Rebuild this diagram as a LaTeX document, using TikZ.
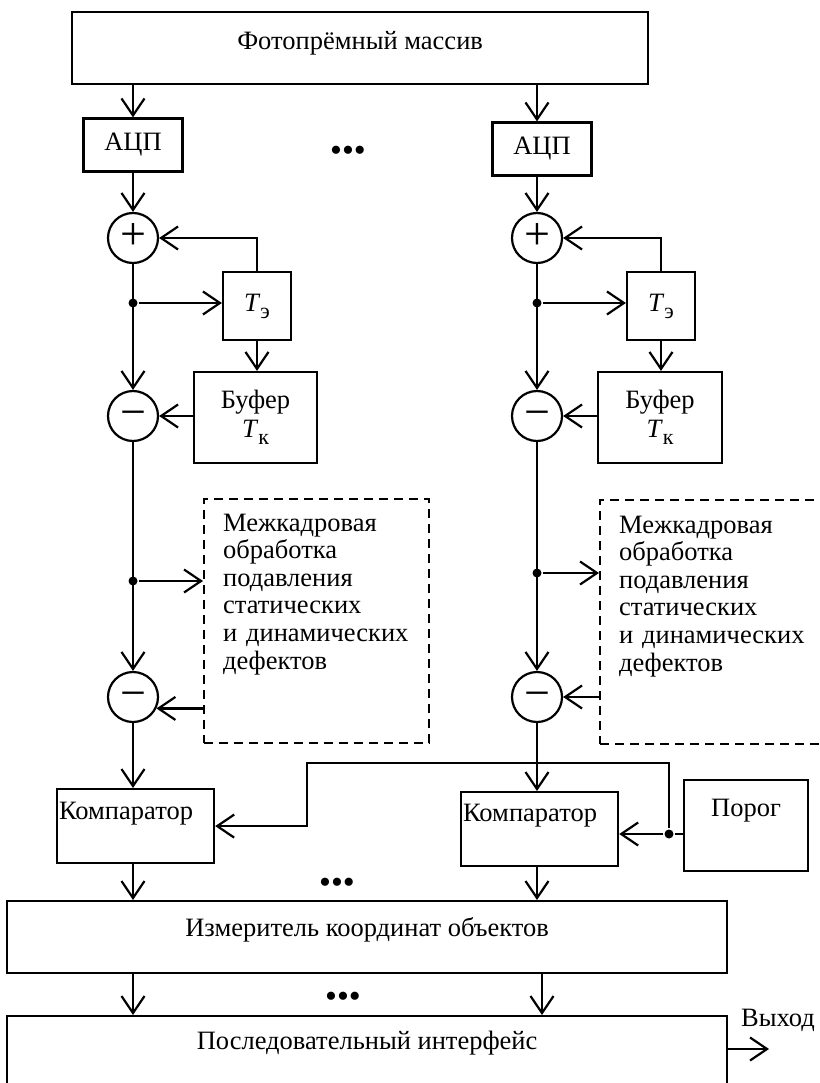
\documentclass[tikz,border=0pt]{standalone}
\usepackage{fontspec}
\setmainfont{Liberation Serif}
\usetikzlibrary{arrows.meta,positioning}
\newcommand{\Tsub}[1]{\textit{T}\raisebox{-7pt}{\fontsize{22}{22}\selectfont #1}}

\begin{document}
\begin{tikzpicture}[x=1pt, y=-1pt, line width=2.2pt,
  >={Straight Barb[length=17pt,width=23pt]},
  font=\fontsize{26.5}{27.6}\selectfont,
  b/.style={draw, inner sep=0pt, align=center},
  sum/.style={draw, circle, inner sep=0pt, minimum size=50pt,
              font=\fontsize{46}{46}\selectfont, text height=23pt, text depth=0pt},
  dl/.style={draw, dash pattern=on 9pt off 6pt, inner sep=0pt, align=left},
  dotj/.style={circle, fill, inner sep=0pt, minimum size=9pt},
  dots/.style={inner sep=0pt, font=\fontsize{34}{34}\selectfont}]
\useasboundingbox (0,0) rectangle (819,1083);

\node[b, anchor=north west, minimum width=576pt, text height=37pt, text depth=35pt] (foto) at (71,11) {Фотопрёмный массив};
\node[b, minimum width=99pt, minimum height=53pt] (adc1) at (133,145) {АЦП};
\node[b, minimum width=99pt, minimum height=53pt] (adc2) at (542,149) {АЦП};
\node[dots] (dots1) at (348,154) {•••};

% левый канал
\node[sum] (s1) at (133,238) {+};
\node[dotj] (j1) at (133,303) {};
\node[b, minimum width=68pt, minimum height=68pt] (te1) at (257,306) {\Tsub{э}};
\node[b, minimum width=123pt, minimum height=91pt] (buf1) at (255.5,417.5) {Буфер\\[2pt]\Tsub{к}};
\node[sum] (d1) at (133,416) {−};
\node[dotj] (j2) at (133,581) {};
\node[dl, anchor=north west, text width=187pt, inner xsep=19pt, text height=32pt, text depth=212pt] (mk1) at (203,498)
  {Межкадровая\\обработка\\подавления\\статических\\и динамических\\дефектов};
\node[sum] (d2) at (133,697) {−};

% правый канал
\node[sum] (s2) at (537,238) {+};
\node[dotj] (j3) at (537,303) {};
\node[b, minimum width=68pt, minimum height=68pt] (te2) at (661,306) {\Tsub{э}};
\node[b, minimum width=124pt, minimum height=91pt] (buf2) at (660,417.5) {Буфер\\[2pt]\Tsub{к}};
\node[sum] (d3) at (537,416) {−};
\node[dotj] (j4) at (537,573) {};
\node[dl, anchor=north west, text width=187pt, inner xsep=19pt, text height=33pt, text depth=211pt] (mk2) at (599,499)
  {Межкадровая\\обработка\\подавления\\статических\\и динамических\\дефектов};
\node[sum] (d4) at (537,697) {−};

% компараторы и выход
\node[b, anchor=north west, text width=153pt, align=left, inner xsep=2pt, text height=30pt, text depth=44pt] (kp1) at (56,788) {Компаратор};
\node[b, anchor=north west, text width=153pt, align=left, inner xsep=2pt, text height=29pt, text depth=45pt] (kp2) at (460,791) {Компаратор};
\node[b, anchor=north west, minimum width=124pt, text height=36pt, text depth=55pt] (por) at (683,779) {Порог};
\node[dotj] (j5) at (669,834) {};
\coordinate (bend) at (307,763);
\node[dots] (dots2) at (337,886) {•••};
\node[b, anchor=north west, minimum width=720pt, text height=35pt, text depth=37pt] (izm) at (6,900) {Измеритель координат объектов};
\node[dots] (dots3) at (343,1000) {•••};
\node[b, anchor=north west, minimum width=720pt, text height=33pt, text depth=47pt] (pi) at (6,1015) {Последовательный интерфейс};
\coordinate (out) at (769,1049);
\node[inner sep=0pt] (vyh) at (778,1020) {Выход};

\draw[->] (foto.south -| adc1) -- (adc1);
\draw[->] (foto.south -| s2) -- (adc2.north -| s2);
\draw[->] (adc1) -- (s1);
\draw[->] (adc2.south -| s2) -- (s2);
\draw[->] (s1) -- (d1);
\draw[->] (s2) -- (d3);
\draw[->] (j1) -- (j1 -| te1.west);
\draw[->] (j3) -- (j3 -| te2.west);
\draw[->] (te1.north) |- (s1);
\draw[->] (te2.north) |- (s2);
\draw[->] (te1.south) -- (te1.south |- buf1.north);
\draw[->] (te2.south) -- (te2.south |- buf2.north);
\draw[->] (buf1.west |- d1) -- (d1);
\draw[->] (buf2.west |- d3) -- (d3);
\draw[->] (d1) -- (d2);
\draw[->] (d3) -- (d4);
\draw[->] (j2) -- (j2 -| mk1.west);
\draw[->] (j4) -- (j4 -| mk2.west);
\draw[->] (mk1.west |- d2.-26) -- (d2.-26);
\draw[->] (mk2.west |- d4) -- (d4);
\draw[->] (d2) -- (d2 |- kp1.north);
\draw[->] (d4) -- (d4 |- kp2.north);
\draw (por.west |- j5) -- (j5);
\draw[->] (j5) -- (j5 -| kp2.east);
\draw[->] (j5) |- (bend) |- (kp1.east);
\draw[->] (kp1.south -| d2) -- (izm.north -| d2);
\draw[->] (kp2.south -| d4) -- (izm.north -| d4);
\draw[->] (izm.south -| d2) -- (pi.north -| d2);
\draw[->] (izm.south -| adc2) -- (pi.north -| adc2);
\draw[->] (pi.east |- out) -- (out);
\end{tikzpicture}
\end{document}
